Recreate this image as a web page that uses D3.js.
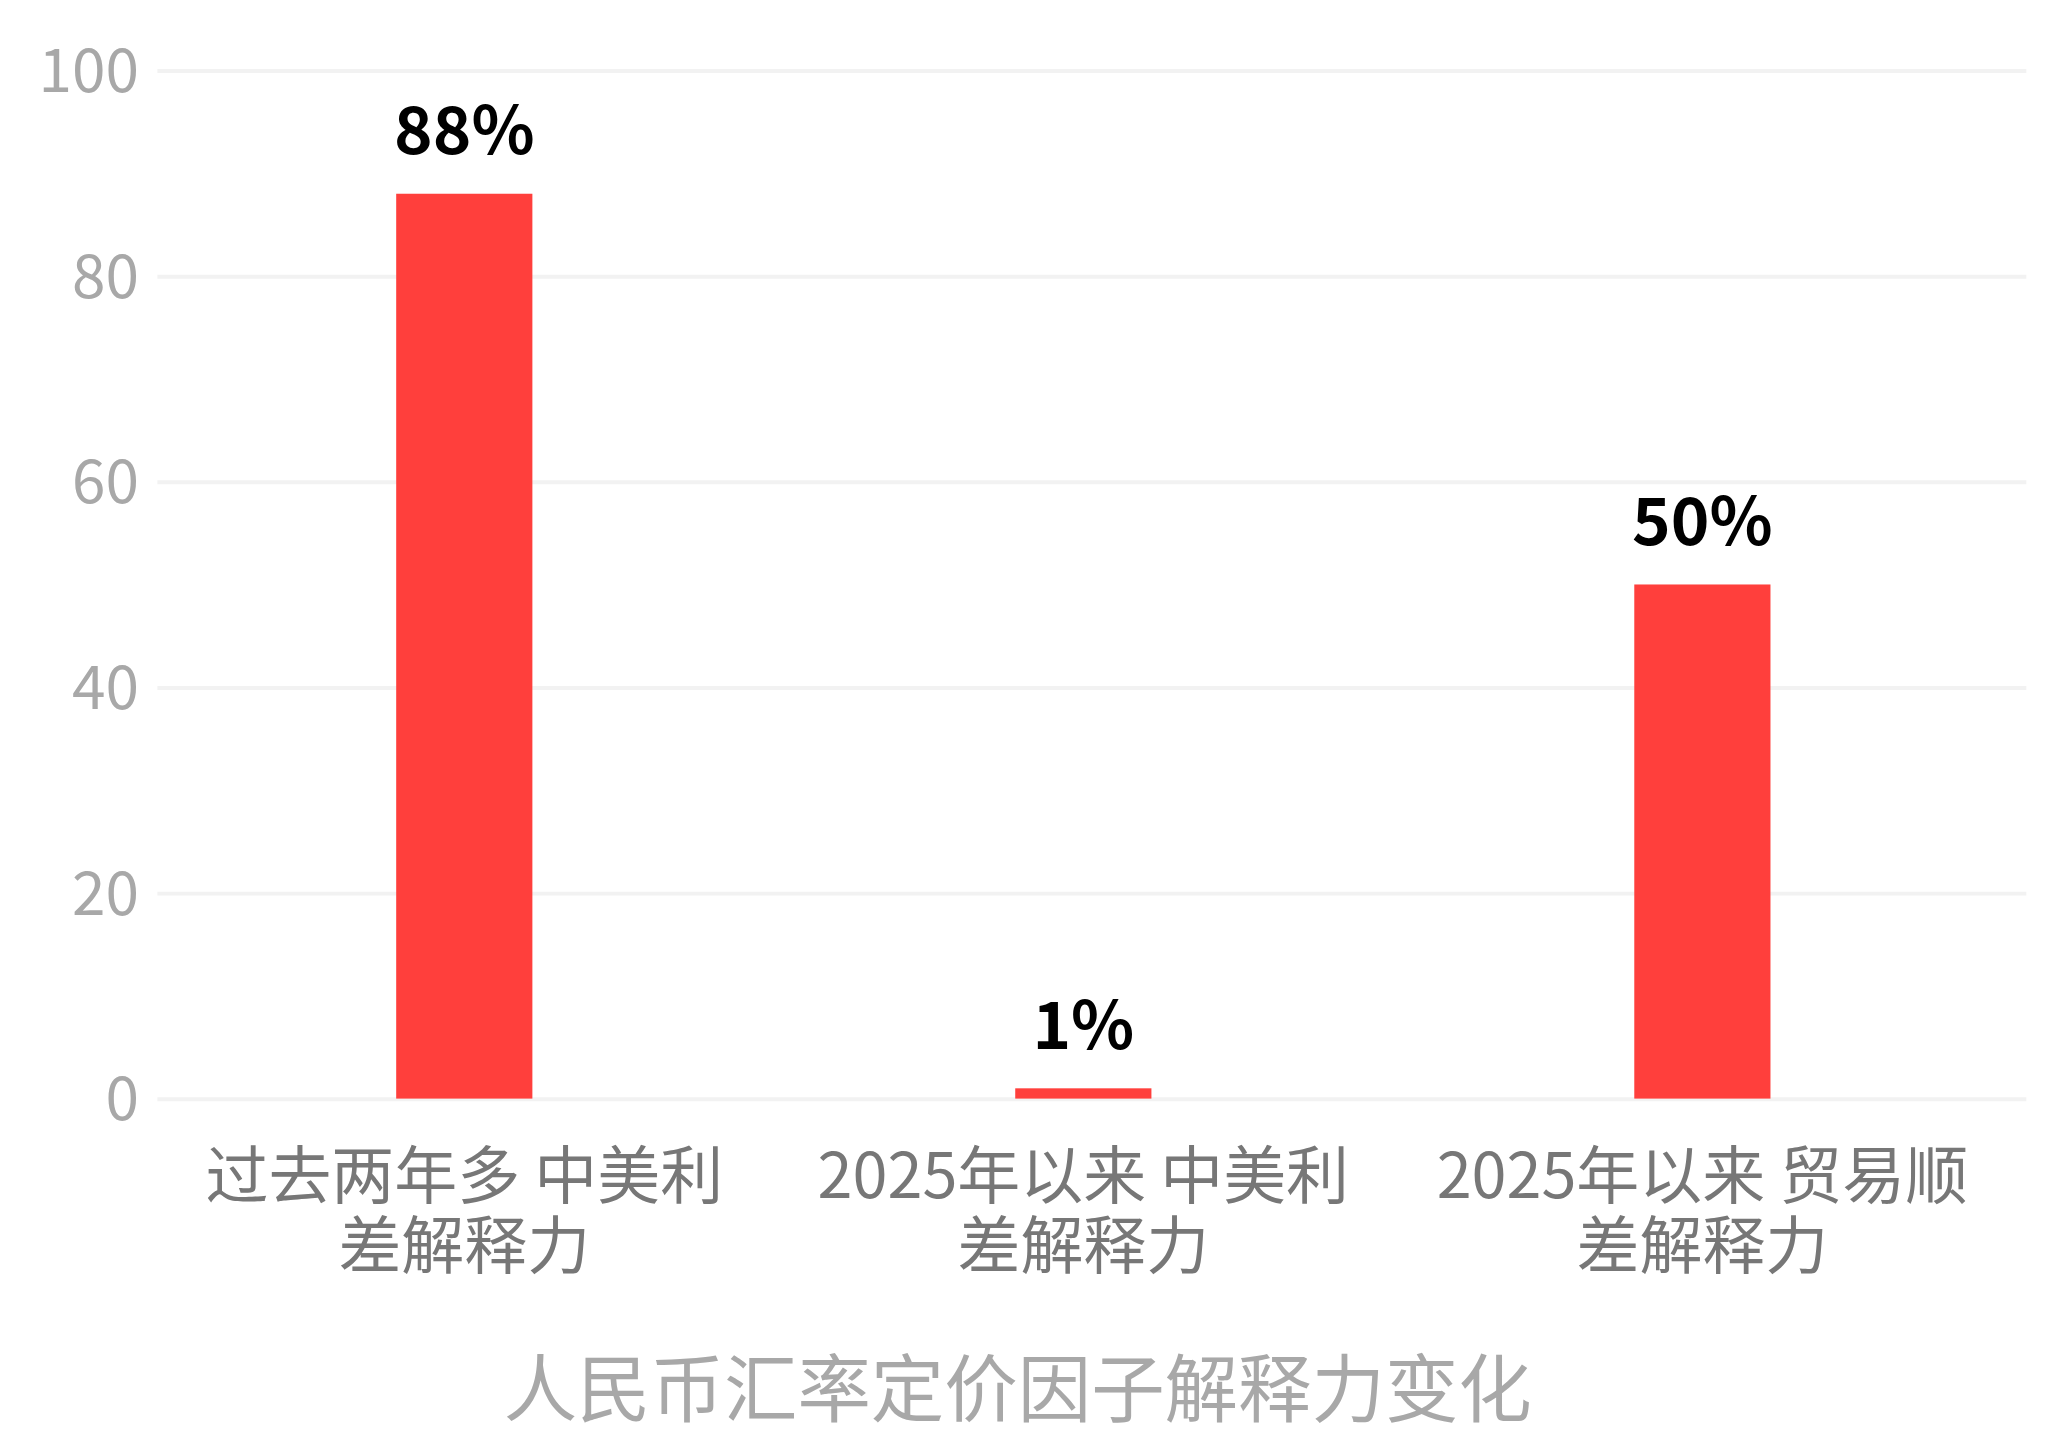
<!DOCTYPE html>
<html><head><meta charset="utf-8">
<script src="https://cdn.jsdelivr.net/npm/d3@7"></script>
<style>html,body{margin:0;padding:0;background:#fff}</style>
</head><body>
<script>
const categories = [["过去两年多 中美利","差解释力"],["2025年以来 中美利","差解释力"],["2025年以来 贸易顺","差解释力"]];
const values = [88, 1, 50];
const yTicks = [0, 20, 40, 60, 80, 100];
const title = "人民币汇率定价因子解释力变化";

const W = 1560, H = 1100;
const FONT = "'Noto Sans CJK SC','Noto Sans',sans-serif";
const svg = d3.select("body").append("svg")
  .attr("width", 2046).attr("height", 1447)
  .attr("viewBox", `0 0 ${W} ${H}`)
  .style("font-family", FONT);

const x = d3.scaleBand().domain(d3.range(values.length)).range([118, 1534]).paddingInner(0.78).paddingOuter(0.39);
const y = d3.scaleLinear().domain([0, 100]).range([836, 52]);

const yAxis = svg.append("g").attr("transform", "translate(120,0)")
  .call(d3.axisLeft(y).tickValues(yTicks).tickSize(-1425).tickPadding(14))
  .attr("font-family", FONT);
yAxis.select(".domain").remove();
yAxis.selectAll(".tick line").attr("stroke", "#f2f2f2").attr("stroke-width", 3);
yAxis.selectAll(".tick text").attr("fill", "#a8a8a8").attr("font-size", 46).attr("dy", "0.35em");

svg.selectAll("rect.bar").data(values).join("rect")
  .attr("x", (d, i) => x(i)).attr("width", x.bandwidth())
  .attr("y", d => y(d)).attr("height", d => y(0) - y(d))
  .attr("fill", "#ff3f3c");

svg.selectAll("text.val").data(values).join("text")
  .attr("x", (d, i) => x(i) + x.bandwidth() / 2).attr("y", d => y(d) - 30)
  .attr("text-anchor", "middle").attr("font-size", 50).attr("font-weight", "bold")
  .attr("fill", "#000").text(d => d + "%");

const cl = svg.selectAll("text.cat").data(categories).join("text")
  .attr("text-anchor", "middle").attr("font-size", 48).attr("fill", "#777");
cl.each(function(d, i) {
  d3.select(this).selectAll("tspan").data(d).join("tspan")
    .attr("x", x(i) + x.bandwidth() / 2).attr("y", (t, j) => 912 + j * 53).text(t => t);
});

svg.append("text").attr("x", 776).attr("y", 1078).attr("text-anchor", "middle")
  .attr("font-size", 56).attr("fill", "#a8a8a8").text(title);
</script>
</body></html>
